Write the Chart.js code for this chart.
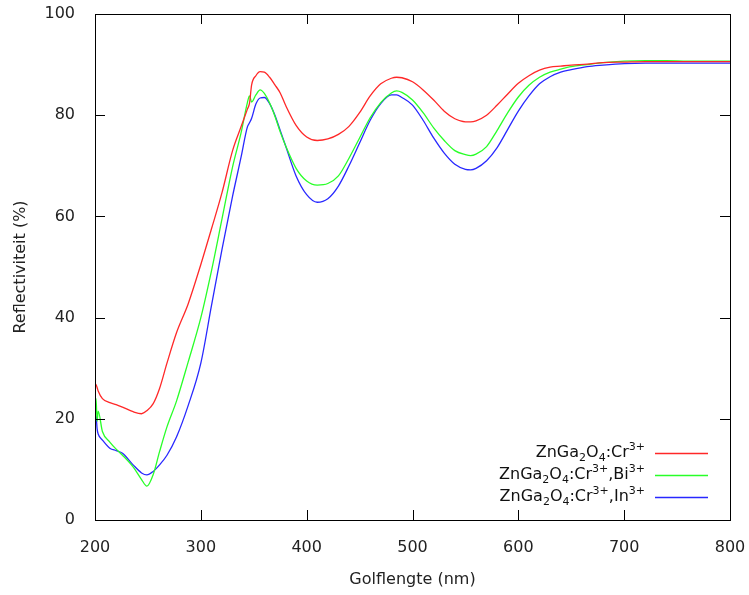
<!DOCTYPE html>
<html>
<head>
<meta charset="utf-8">
<script src="https://cdn.jsdelivr.net/npm/chart.js@4/dist/chart.umd.min.js"></script>
<style>
  html, body { margin: 0; padding: 0; background: #fff; }
  #wrap { width: 749px; height: 595px; }
</style>
</head>
<body>
<div id="wrap"><canvas id="reflChart" width="749" height="595"></canvas></div>
<script>
// wavelength grid (nm)
const wavelengths = [200, 201, 202, 203, 207, 214, 220, 226, 236, 244, 249, 255, 261, 268, 277, 288,
    300, 310, 320, 330, 338, 344, 346, 348, 352, 356, 360, 365, 370, 375, 380, 390, 400, 410, 420,
    430, 440, 450, 460, 470, 480, 485, 490, 500, 510, 520, 530, 540, 550, 555, 560, 570, 580, 590,
    600, 610, 620, 630, 640, 650, 665, 680, 700, 720, 740, 760, 780, 800];

// reflectivity (%) per sample
const reflCr = [27, 26.7, 26.2, 25.5, 24, 23.2, 22.8, 22.3, 21.4, 21, 21.6, 23, 26, 31, 37, 42.7,
    50.5, 57.5, 64.7, 73, 77.7, 81.2, 82.4, 86, 87.8, 88.6, 88.5, 87.5, 86, 84.4, 82, 78, 75.7, 75, 75.3,
    76.2, 77.8, 80.5, 83.8, 86.2, 87.3, 87.5, 87.4, 86.6, 85, 83, 80.8, 79.3, 78.7, 78.7, 78.9, 80, 82, 84.2,
    86.3, 87.8, 88.9, 89.5, 89.7, 89.9, 90.1, 90.4, 90.5, 90.6, 90.6, 90.6, 90.6, 90.6];

const reflCrBi = [21, 24, 19.5, 21.5, 17.5, 15.4, 14, 12.8, 10.5, 8, 6.7, 9, 13.5, 18.4, 23.5, 31.2,
    40, 49.2, 59.5, 69.8, 76.5, 82.5, 83.8, 82.6, 84, 85, 84.3, 82.4, 79.8, 76.7, 74, 69.5, 67, 66.2, 66.5,
    68, 71.5, 75.5, 79.5, 82.5, 84.4, 84.8, 84.5, 83, 80.5, 77.5, 75, 73, 72.2, 72, 72.3, 73.8, 77, 80.5,
    83.6, 85.9, 87.5, 88.5, 89.1, 89.6, 90, 90.4, 90.7, 90.8, 90.8, 90.7, 90.7, 90.7];

const reflCrIn = [19.8, 20.5, 18, 17, 15.8, 14.2, 13.7, 13.2, 10.9, 9.3, 8.9, 9.6, 10.9, 12.8, 16.4, 22.6,
    31, 42.3, 53.5, 64, 71.7, 77.7, 78.5, 79.4, 82.2, 83.4, 83.5, 82.3, 80, 77, 74, 68, 64.3, 62.8, 63.5,
    66, 70, 74.5, 79, 82.3, 84, 84, 83.5, 82, 79, 75.5, 72.5, 70.3, 69.3, 69.2, 69.5, 71, 73.6, 77.2,
    80.8, 83.8, 86.2, 87.6, 88.5, 89, 89.6, 89.9, 90.2, 90.3, 90.3, 90.3, 90.3, 90.3];

const xTicks = [200, 300, 400, 500, 600, 700, 800];
const yTicks = [0, 20, 40, 60, 80, 100];

// legend labels, _{..} = subscript, ^{..} = superscript
const labels = ['ZnGa_{2}O_{4}:Cr^{3+}', 'ZnGa_{2}O_{4}:Cr^{3+},Bi^{3+}', 'ZnGa_{2}O_{4}:Cr^{3+},In^{3+}'];
const colors = ['#ff2828', '#28ff28', '#2828ff'];

const FONT = '"DejaVu Sans", Verdana, sans-serif';

function toPoints(vals) {
    return wavelengths.map((w, i) => ({x: w, y: vals[i]}));
}

function parseRich(str) {
    const parts = [];
    const re = /(_|\^)\{([^}]*)\}/g;
    let last = 0, m;
    while ((m = re.exec(str)) !== null) {
        if (m.index > last) parts.push({t: str.slice(last, m.index), mode: 'n'});
        parts.push({t: m[2], mode: m[1] === '_' ? 'sub' : 'sup'});
        last = re.lastIndex;
    }
    if (last < str.length) parts.push({t: str.slice(last), mode: 'n'});
    return parts;
}

// gnuplot-like frame with inward ticks on all four sides
const framePlugin = {
    id: 'frame',
    afterDatasetsDraw(chart) {
        const ctx = chart.ctx;
        const a = chart.chartArea;
        const xs = chart.scales.x, ys = chart.scales.y;
        ctx.save();
        ctx.strokeStyle = '#000';
        ctx.lineWidth = 1;
        ctx.beginPath();
        xTicks.forEach(v => {
            const px = Math.round(xs.getPixelForValue(v)) + 0.5;
            ctx.moveTo(px, a.bottom); ctx.lineTo(px, a.bottom - 10);
            ctx.moveTo(px, a.top); ctx.lineTo(px, a.top + 10);
        });
        yTicks.forEach(v => {
            const py = Math.round(ys.getPixelForValue(v)) + 0.5;
            ctx.moveTo(a.left, py); ctx.lineTo(a.left + 10, py);
            ctx.moveTo(a.right, py); ctx.lineTo(a.right - 10, py);
        });
        ctx.stroke();
        ctx.strokeRect(Math.round(a.left) + 0.5, Math.round(a.top) + 0.5,
            Math.round(a.right - a.left), Math.round(a.bottom - a.top));
        ctx.restore();
    }
};

// legend inside the plot, text right aligned, line sample on the right
const legendPlugin = {
    id: 'richLegend',
    afterDraw(chart) {
        const ctx = chart.ctx;
        const textRight = 645, lineX0 = 655, lineX1 = 708;
        const rows = [453, 475, 497];
        ctx.save();
        ctx.textBaseline = 'middle';
        chart.data.datasets.forEach((ds, i) => {
            const parts = parseRich(ds.label);
            let w = 0;
            parts.forEach(p => {
                ctx.font = (p.mode === 'n' ? '16px ' : '11px ') + FONT;
                p.w = ctx.measureText(p.t).width;
                w += p.w;
            });
            let x = textRight - w;
            const y = rows[i];
            ctx.fillStyle = '#111';
            ctx.textAlign = 'left';
            parts.forEach(p => {
                ctx.font = (p.mode === 'n' ? '16px ' : '11px ') + FONT;
                const dy = p.mode === 'sub' ? 5 : (p.mode === 'sup' ? -6 : 0);
                ctx.fillText(p.t, x, y + dy);
                x += p.w;
            });
            ctx.strokeStyle = ds.borderColor;
            ctx.lineWidth = 1.3;
            ctx.beginPath();
            ctx.moveTo(lineX0, y + 0.5);
            ctx.lineTo(lineX1, y + 0.5);
            ctx.stroke();
        });
        ctx.restore();
    }
};

document.addEventListener('DOMContentLoaded', function() {
    const ctx = document.getElementById('reflChart').getContext('2d');
    const seriesVals = [reflCr, reflCrBi, reflCrIn];

    const reflChart = new Chart(ctx, {
        type: 'line',
        data: {
            datasets: seriesVals.map((vals, i) => ({
                label: labels[i],
                data: toPoints(vals),
                borderColor: colors[i],
                borderWidth: 1.3,
                pointRadius: 0,
                fill: false,
                cubicInterpolationMode: 'monotone'
            }))
        },
        options: {
            responsive: false,
            animation: false,
            layout: { padding: { top: 14, right: 19, left: 0, bottom: 0 } },
            plugins: {
                legend: { display: false },
                tooltip: { enabled: false }
            },
            scales: {
                x: {
                    type: 'linear',
                    min: 200,
                    max: 800,
                    afterBuildTicks: scale => { scale.ticks = xTicks.map(v => ({value: v})); },
                    afterFit: scale => {
                        scale.height = 75;
                        scale.paddingLeft = 0;
                        scale.paddingRight = 0;
                    },
                    grid: { display: false },
                    border: { display: false },
                    ticks: { color: '#222', font: { family: FONT, size: 16 }, padding: 10, maxRotation: 0 },
                    title: { display: true, text: 'Golflengte (nm)', color: '#222',
                             font: { family: FONT, size: 16 }, padding: { top: 4, bottom: 6 } }
                },
                y: {
                    min: 0,
                    max: 100,
                    afterBuildTicks: scale => { scale.ticks = yTicks.map(v => ({value: v})); },
                    afterFit: scale => {
                        scale.width = 95;
                        scale.paddingTop = 0;
                        scale.paddingBottom = 0;
                    },
                    grid: { display: false },
                    border: { display: false },
                    ticks: { color: '#222', font: { family: FONT, size: 16 }, padding: 12 },
                    title: { display: true, text: 'Reflectiviteit (%)', color: '#222',
                             font: { family: FONT, size: 16 }, padding: { top: 11, bottom: 4 } }
                }
            }
        },
        plugins: [framePlugin, legendPlugin]
    });
});
</script>
</body>
</html>
